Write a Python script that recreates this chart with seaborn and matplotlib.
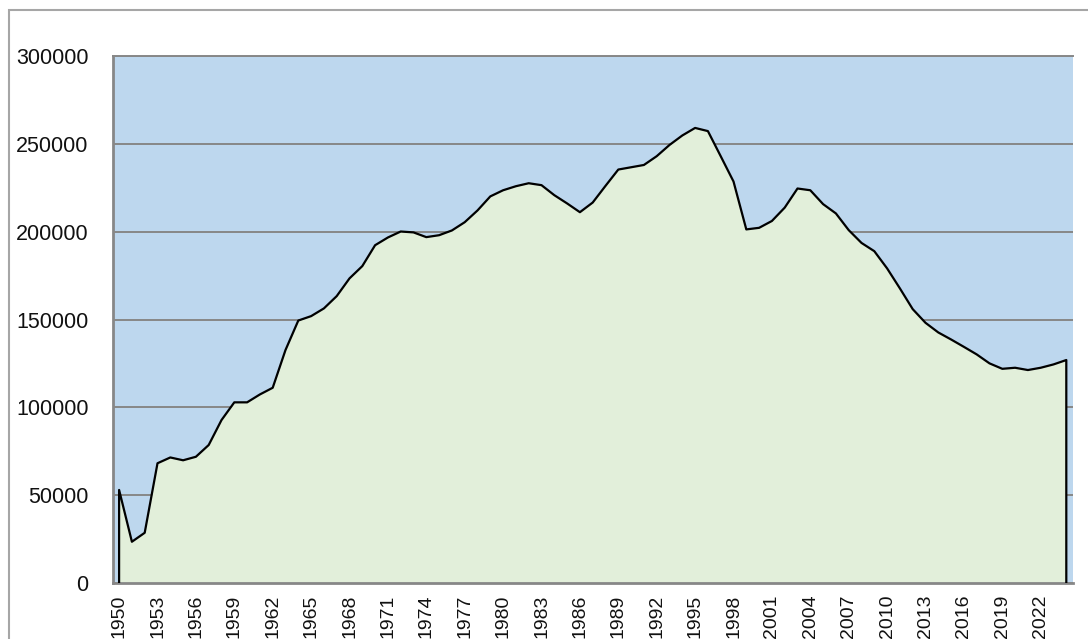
import matplotlib
matplotlib.use("Agg")
import matplotlib.pyplot as plt
from matplotlib.patches import Rectangle
from matplotlib.ticker import FixedLocator, NullFormatter
import seaborn as sns
import pandas as pd
import numpy as np

# Yearly values, 1950-2024
years = list(range(1950, 2025))
values = [
    53000, 23500, 28600, 68200, 71500, 69900, 71900, 78600, 92800, 102900,
    102900, 107400, 111200, 132700, 149500, 152000, 156400, 163400, 173500, 180500,
    192400, 196800, 200200, 199700, 197000, 198100, 200800, 205500, 212200, 220200,
    223700, 226000, 227700, 226600, 220900, 216200, 211200, 216700, 226200, 235500,
    236800, 238100, 243100, 249500, 254900, 259200, 257400, 243100, 228700, 201400,
    202300, 206200, 213800, 224700, 223700, 215800, 210500, 201000, 193700, 189000,
    179200, 167800, 156000, 148200, 142700, 138700, 134500, 130200, 125100, 122000,
    122600, 121300, 122600, 124500, 127000,
]
label_step = 3
y_ticks = [0, 50000, 100000, 150000, 200000, 250000, 300000]

W, H = 1088, 639
fig = plt.figure(figsize=(W / 100, H / 100), dpi=100)
sns.set_style("white")
plt.rcParams["font.family"] = ["Liberation Sans", "DejaVu Sans"]

ax = fig.add_axes([112.7 / W, (H - 583) / H, 960 / W, 526.7 / H])

grid_gray = "#878787"
ax.set_facecolor("#BDD7EE")

pos = np.arange(len(years))
ax.fill_between(pos, values, 0, color="#E2EFDA", linewidth=0, zorder=2)

# Outline of the area: up from the baseline, along the series, back down
outline = pd.DataFrame({
    "x": np.concatenate([[pos[0]], pos, [pos[-1]]]),
    "y": [0] + values + [0],
})
sns.lineplot(data=outline, x="x", y="y", estimator=None, sort=False,
             color="black", linewidth=1.6, ax=ax, zorder=3)

ax.set_xlim(-0.5, len(years) - 0.5)
ax.set_ylim(0, 300000)
ax.set_xlabel("")
ax.set_ylabel("")

# Horizontal gridlines
ax.set_yticks(y_ticks)
ax.set_yticklabels([str(v) for v in y_ticks])
ax.yaxis.grid(True, color=grid_gray, linewidth=1.4, zorder=1)
ax.set_axisbelow(True)
ax.xaxis.grid(False)

# Category labels every few years, tick marks between categories
ax.set_xticks(pos[::label_step])
ax.set_xticklabels([str(y) for y in years[::label_step]], rotation=90)
ax.xaxis.set_minor_locator(FixedLocator(np.arange(-0.5, len(years), 1.0)))
ax.xaxis.set_minor_formatter(NullFormatter())
ax.tick_params(axis="x", which="major", length=0, pad=8.5, labelsize=14,
               labelcolor="#111111")
ax.tick_params(axis="x", which="minor", length=5, width=1.2, color=grid_gray,
               direction="out")
ax.tick_params(axis="y", which="major", length=6, width=1.4, color=grid_gray,
               pad=11.5, labelsize=15.5, labelcolor="#111111")

for side in ("left", "bottom"):
    ax.spines[side].set_color(grid_gray)
    ax.spines[side].set_linewidth(2)
ax.spines["top"].set_color(grid_gray)
ax.spines["top"].set_linewidth(1.4)
ax.spines["right"].set_visible(False)

# Chart frame
fig.patches.append(Rectangle((9 / W, -1), 2, 1 - 10 / H + 1,
                             transform=fig.transFigure, fill=False,
                             edgecolor="#A6A6A6", linewidth=1.5))

fig.savefig("out.png", dpi=100)
